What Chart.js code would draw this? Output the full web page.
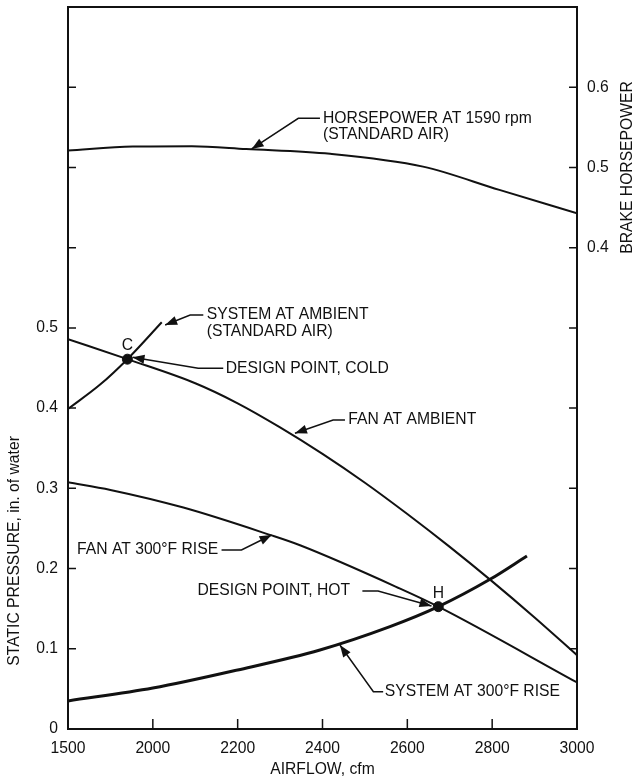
<!DOCTYPE html>
<html>
<head>
<meta charset="utf-8">
<script src="https://cdn.jsdelivr.net/npm/chart.js@4.4.1/dist/chart.umd.min.js"></script>
<style>
  html, body { margin: 0; padding: 0; background: #fff; }
  #wrap { width: 640px; height: 781px; position: relative; }
</style>
</head>
<body>
<div id="wrap"><canvas id="fanChart"></canvas></div>
<script>
// Airflow axis positions (the axis is broken: first tick is labelled 1500)
const xTickValues = [1800, 2000, 2200, 2400, 2600, 2800, 3000];
const xTickLabels = ['1500', '2000', '2200', '2400', '2600', '2800', '3000'];

// Static pressure axis (left) and brake horsepower axis (right)
const pressureTicks = [0, 0.1, 0.2, 0.3, 0.4, 0.5, 0.6, 0.7, 0.8];
const pressureTickLabels = ['0', '0.1', '0.2', '0.3', '0.4', '0.5', '', '', ''];
const hpTicks = [-0.1, 0, 0.1, 0.2, 0.3, 0.4, 0.5, 0.6];
const hpTickLabels = ['', '', '', '', '', '0.4', '0.5', '0.6'];

// Curves
const fanAmbientAirflow = [1800, 1940, 2100, 2200, 2300, 2400, 2500, 2600, 2700, 2800, 2900, 3000];
const fanAmbientPressure = [0.486, 0.461, 0.431, 0.406, 0.376, 0.343, 0.307, 0.268, 0.227, 0.184, 0.139, 0.092];

const fanHotAirflow = [1800, 1900, 2072, 2276, 2347, 2583, 2673, 3000];
const fanHotPressure = [0.3075, 0.298, 0.276, 0.242, 0.229, 0.175, 0.1525, 0.058];

const sysAmbientAirflow = [1800, 1875, 1940, 2021];
const sysAmbientPressure = [0.399, 0.429, 0.461, 0.507];

const sysHotAirflow = [1800, 2000, 2200, 2394, 2559, 2673, 2795, 2882];
const sysHotPressure = [0.035, 0.051, 0.0736, 0.0985, 0.1276, 0.1525, 0.1866, 0.2157];

const hpAirflow = [1800, 1953, 2092, 2220, 2418, 2637, 2817, 3000];
const hpBrake = [0.521, 0.526, 0.5265, 0.523, 0.517, 0.501, 0.472, 0.443];

// Design points C (cold) and H (hot)
const designAirflow = [1940, 2673];
const designPressure = [0.461, 0.1525];
const designLabels = ['C', 'H'];

const INK = '#111';
const FONT = '"Liberation Sans", Arial, Helvetica, sans-serif';
const SIZE = 15.7;

function zip(xs, ys) {
    return xs.map((x, i) => ({ x: x, y: ys[i] }));
}

// callout labels, anchored in data units (x airflow, y static pressure)
const notes = [
    { lines: ['HORSEPOWER AT 1590 rpm', '(STANDARD AIR)'], x: 2401, y: 0.7613, align: 'left',
      leader: [[2394, 0.7613], [2343, 0.7613], [2233, 0.723]] },
    { lines: ['SYSTEM AT AMBIENT', '(STANDARD AIR)'], x: 2127, y: 0.5161, align: 'left',
      leader: [[2119, 0.5161], [2088, 0.5161], [2029, 0.5036]] },
    { lines: ['DESIGN POINT, COLD'], x: 2172, y: 0.4496, align: 'left',
      leader: [[2166, 0.4496], [2107, 0.4496], [1952, 0.4634]] },
    { lines: ['FAN AT AMBIENT'], x: 2461, y: 0.3852, align: 'left',
      leader: [[2453, 0.3852], [2425, 0.3852], [2335, 0.3686]] },
    { lines: ['FAN AT 300°F RISE'], x: 2154, y: 0.2231, align: 'right',
      leader: [[2162, 0.2231], [2209, 0.2231], [2280, 0.2418]] },
    { lines: ['DESIGN POINT, HOT'], x: 2465, y: 0.172, align: 'right',
      leader: [[2494, 0.172], [2531, 0.172], [2657, 0.1533]] },
    { lines: ['SYSTEM AT 300°F RISE'], x: 2547, y: 0.0465, align: 'left',
      leader: [[2543, 0.0465], [2520, 0.0465], [2441, 0.1047]] }
];

const overlay = {
    id: 'overlay',
    afterDraw(chart) {
        const { ctx, chartArea: a, scales } = chart;
        const xs = scales.x, ys = scales.y, hs = scales.y1;
        ctx.save();

        // frame
        ctx.strokeStyle = INK;
        ctx.lineWidth = 2;
        ctx.strokeRect(a.left, a.top, a.right - a.left, a.bottom - a.top);

        // tick marks pointing into the plot
        ctx.lineWidth = 1.5;
        ctx.beginPath();
        xTickValues.slice(1, -1).forEach(v => {
            const px = xs.getPixelForValue(v);
            ctx.moveTo(px, a.bottom);
            ctx.lineTo(px, a.bottom - 10);
        });
        pressureTicks.slice(1).forEach(v => {
            const py = ys.getPixelForValue(v);
            ctx.moveTo(a.left, py);
            ctx.lineTo(a.left + 8, py);
        });
        hpTicks.forEach(v => {
            const py = hs.getPixelForValue(v);
            ctx.moveTo(a.right, py);
            ctx.lineTo(a.right - 8, py);
        });
        ctx.stroke();

        // axis titles
        ctx.fillStyle = INK;
        ctx.font = SIZE + 'px ' + FONT;
        ctx.textAlign = 'center';
        ctx.textBaseline = 'middle';
        ctx.fillText('AIRFLOW, cfm', (a.left + a.right) / 2, 770);

        ctx.save();
        ctx.translate(15, ys.getPixelForValue(0.222));
        ctx.rotate(-Math.PI / 2);
        ctx.fillText('STATIC PRESSURE, in. of water', 0, 0);
        ctx.restore();

        ctx.save();
        ctx.translate(628, hs.getPixelForValue(0.5));
        ctx.rotate(-Math.PI / 2);
        ctx.fillText('BRAKE HORSEPOWER', 0, 0);
        ctx.restore();

        // callouts
        notes.forEach(n => {
            const pts = n.leader.map(p => [xs.getPixelForValue(p[0]), ys.getPixelForValue(p[1])]);
            ctx.lineWidth = 1.5;
            ctx.beginPath();
            pts.forEach((p, i) => i ? ctx.lineTo(p[0], p[1]) : ctx.moveTo(p[0], p[1]));
            ctx.stroke();

            // arrow head at the last point
            const tip = pts[pts.length - 1], prev = pts[pts.length - 2];
            const ang = Math.atan2(tip[1] - prev[1], tip[0] - prev[0]);
            ctx.beginPath();
            ctx.moveTo(tip[0], tip[1]);
            ctx.lineTo(tip[0] - 12 * Math.cos(ang) + 4.5 * Math.sin(ang), tip[1] - 12 * Math.sin(ang) - 4.5 * Math.cos(ang));
            ctx.lineTo(tip[0] - 12 * Math.cos(ang) - 4.5 * Math.sin(ang), tip[1] - 12 * Math.sin(ang) + 4.5 * Math.cos(ang));
            ctx.closePath();
            ctx.fill();

            ctx.textAlign = n.align;
            const tx = xs.getPixelForValue(n.x), ty = ys.getPixelForValue(n.y);
            n.lines.forEach((line, i) => ctx.fillText(line, tx, ty + i * 16.7));
        });

        // C and H letters
        ctx.textAlign = 'center';
        designLabels.forEach((lab, i) => {
            ctx.fillText(lab, xs.getPixelForValue(designAirflow[i]), ys.getPixelForValue(designPressure[i]) - 13);
        });
        ctx.restore();
    }
};

const curve = (data, axis, width) => ({
    data: data,
    yAxisID: axis,
    borderColor: INK,
    borderWidth: width,
    pointRadius: 0,
    cubicInterpolationMode: 'monotone',
    fill: false
});

// fixed box sizes so the plot area matches the figure
const fitY = w => s => { s.width = w; s.paddingTop = 0; s.paddingBottom = 0; };

new Chart(document.getElementById('fanChart'), {
    type: 'line',
    data: {
        datasets: [
            curve(zip(hpAirflow, hpBrake), 'y1', 2),
            curve(zip(fanAmbientAirflow, fanAmbientPressure), 'y', 2),
            curve(zip(fanHotAirflow, fanHotPressure), 'y', 2),
            curve(zip(sysAmbientAirflow, sysAmbientPressure), 'y', 2),
            curve(zip(sysHotAirflow, sysHotPressure), 'y', 3),
            {
                data: zip(designAirflow, designPressure),
                yAxisID: 'y',
                showLine: false,
                pointRadius: 5,
                pointBackgroundColor: INK,
                pointBorderColor: INK
            }
        ]
    },
    options: {
        responsive: true,
        maintainAspectRatio: false,
        animation: false,
        layout: { padding: { top: 7, left: 0, right: 0, bottom: 0 } },
        plugins: { legend: { display: false }, tooltip: { enabled: false } },
        scales: {
            x: {
                type: 'linear',
                min: 1800,
                max: 3000,
                afterBuildTicks: s => { s.ticks = xTickValues.map(v => ({ value: v })); },
                afterFit: s => { s.height = 52; s.paddingLeft = 0; s.paddingRight = 0; },
                ticks: {
                    padding: 10,
                    color: INK,
                    font: { size: SIZE, family: FONT },
                    maxRotation: 0,
                    callback: v => xTickLabels[xTickValues.indexOf(v)]
                },
                grid: { display: false, drawTicks: false },
                border: { display: false }
            },
            y: {
                position: 'left',
                min: 0,
                max: 0.9,
                afterBuildTicks: s => { s.ticks = pressureTicks.map(v => ({ value: v })); },
                afterFit: fitY(68),
                ticks: {
                    padding: 10,
                    color: INK,
                    font: { size: SIZE, family: FONT },
                    callback: (v, i) => pressureTickLabels[i]
                },
                grid: { display: false, drawTicks: false },
                border: { display: false }
            },
            y1: {
                position: 'right',
                min: -0.2,
                max: 0.7,
                afterBuildTicks: s => { s.ticks = hpTicks.map(v => ({ value: v })); },
                afterFit: fitY(63),
                ticks: {
                    padding: 10,
                    color: INK,
                    font: { size: SIZE, family: FONT },
                    callback: (v, i) => hpTickLabels[i]
                },
                grid: { display: false, drawTicks: false },
                border: { display: false }
            }
        }
    },
    plugins: [overlay]
});
</script>
</body>
</html>
